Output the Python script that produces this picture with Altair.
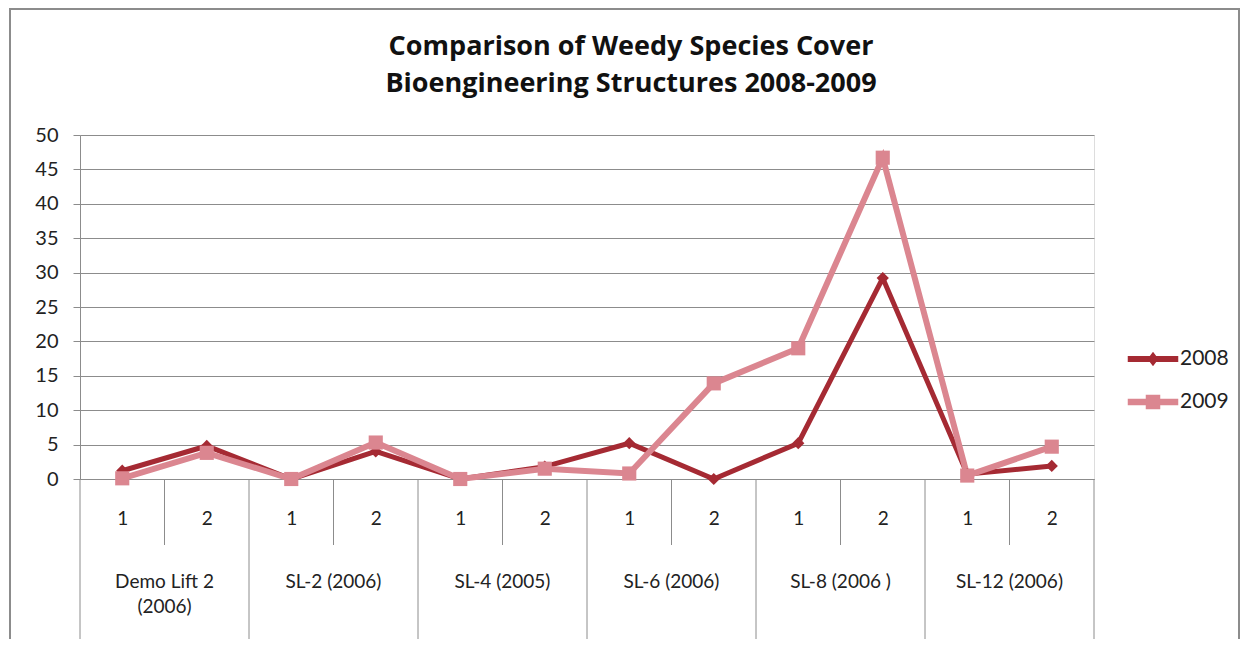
import altair as alt
import pandas as pd

# ---- data ----
title_lines = ["Comparison of Weedy Species Cover", "Bioengineering Structures 2008-2009"]
groups = ["Demo Lift 2\n(2006)", "SL-2 (2006)", "SL-4 (2005)", "SL-6 (2006)", "SL-8 (2006 )", "SL-12 (2006)"]
subs = ["1", "2"]
v2008 = [1.2, 4.8, 0.0, 4.0, 0.0, 1.8, 5.2, 0.0, 5.2, 29.2, 0.7, 1.9]
v2009 = [0.1, 3.8, 0.0, 5.3, 0.0, 1.5, 0.8, 13.9, 19.0, 46.7, 0.5, 4.7]
series = ["2008", "2009"]
colors = ["#A52A33", "#DB8690"]
yticks = [0, 5, 10, 15, 20, 25, 30, 35, 40, 45, 50]

W, H = 1014, 344
FONT = "Lato"
GRID = "#8c8c8c"

rows = []
for s, vals in zip(series, [v2008, v2009]):
    for i, v in enumerate(vals):
        rows.append({"idx": i, "series": s, "value": v,
                     "sub": subs[i % 2], "group": groups[i // 2]})
df = pd.DataFrame(rows)

n = len(groups) * len(subs)
bounds = pd.DataFrame({"b": [k - 0.5 for k in range(n + 1)]})
bounds["long"] = [(k % 2 == 0) for k in range(n + 1)]
glab = pd.DataFrame({"g": groups, "c": [2 * j + 0.5 for j in range(len(groups))]})
tdf = pd.DataFrame({"t": ["\n".join(title_lines)]})

xscale = alt.Scale(domain=[-0.5, n - 0.5], nice=False, zero=False)
yscale = alt.Scale(domain=[0, 50], nice=False)

X = alt.X("idx:Q", scale=xscale,
          axis=alt.Axis(values=list(range(n)), labelExpr="datum.value % 2 == 0 ? '1' : '2'",
                        ticks=False, grid=False, domainColor=GRID, labelPadding=30,
                        labelFontSize=19, labelFont=FONT, labelColor="#222", title=None,
                        labelOverlap=False))
Y = alt.Y("value:Q", scale=yscale,
          axis=alt.Axis(values=yticks, grid=True, gridColor=GRID, tickColor=GRID,
                        domainColor=GRID, tickSize=7, labelPadding=15, labelFontSize=20,
                        labelFont=FONT, labelColor="#222", title=None, labelOverlap=False))
LEG = alt.Legend(title=None, orient="none", legendX=1062, legendY=213,
                 labelFontSize=21, labelFont=FONT, labelColor="#222",
                 symbolSize=400, symbolOpacity=1, rowPadding=22, labelOffset=16)
COLOR = alt.Color("series:N", scale=alt.Scale(domain=series, range=colors), legend=LEG)
# legend symbols: a line segment with the series marker on it
leg_paths = [
    "M-2.45,-0.22H2.45V0.22H-2.45Z M0,-0.6L0.45,0L0,0.6L-0.45,0Z",
    "M-2.45,-0.26H2.45V0.26H-2.45Z M-0.65,-0.65H0.65V0.65H-0.65Z",
]
SHAPE = alt.Shape("series:N", scale=alt.Scale(domain=series, range=leg_paths), legend=LEG)

base = alt.Chart(df)

line08 = base.mark_line(strokeWidth=5).encode(x=X, y=Y, color=COLOR).transform_filter(
    alt.datum.series == "2008")
line09 = base.mark_line(strokeWidth=6).encode(x=X, y=Y, color=COLOR).transform_filter(
    alt.datum.series == "2009")
pts08 = base.mark_point(filled=True, opacity=1, size=150, shape="diamond").encode(
    x=X, y=Y, color=COLOR).transform_filter(alt.datum.series == "2008")
pts09 = base.mark_point(filled=True, opacity=1, size=200, shape="square").encode(
    x=X, y=Y, color=COLOR).transform_filter(alt.datum.series == "2009")
legend_only = base.mark_point(filled=True, opacity=0).encode(
    x=X, y=Y, color=COLOR, shape=SHAPE)

seps = alt.Chart(bounds).mark_rule(color=GRID, strokeWidth=1, clip=False).encode(
    x=alt.X("b:Q", scale=xscale),
    y=alt.value(H),
    y2=alt.YValue(H + 66),
).transform_filter("!datum.long")

seps_long = alt.Chart(bounds).mark_rule(color=GRID, strokeWidth=1, clip=False).encode(
    x=alt.X("b:Q", scale=xscale),
    y=alt.value(H),
    y2=alt.YValue(H + 170),
).transform_filter("datum.long")

glabels = alt.Chart(glab).mark_text(fontSize=19, font=FONT, color="#222", baseline="top",
                                    lineBreak="\n", lineHeight=25, align="center").encode(
    x=alt.X("c:Q", scale=xscale),
    y=alt.value(H + 94),
    text="g:N",
)

title = alt.Chart(tdf).mark_text(fontSize=27, font="Open Sans", fontWeight="bold", color="#111",
                                 baseline="top", align="center", lineBreak="\n", lineHeight=37,
                                 clip=False).encode(
    x=alt.value(551),
    y=alt.value(-101),
    text="t:N",
)

frame = alt.Chart(glab).mark_rect(fill="white", fillOpacity=0, stroke=GRID, strokeWidth=2,
                                  clip=False).encode(
    x=alt.value(-70), x2=alt.XValue(W + 145), y=alt.value(-126), y2=alt.YValue(H + 200)
).transform_filter("datum.c < 1")

chart = alt.layer(frame, seps, seps_long, glabels, title, line08, line09, pts08, pts09,
                  legend_only).properties(
    width=W, height=H,
    autosize=alt.AutoSizeParams(type="none"),
    padding={"left": 72, "top": 127, "right": 147, "bottom": 160},
).configure_view(stroke=None).configure(background="white")

chart.save("out.html", embed_options={"renderer": "svg", "actions": False})
